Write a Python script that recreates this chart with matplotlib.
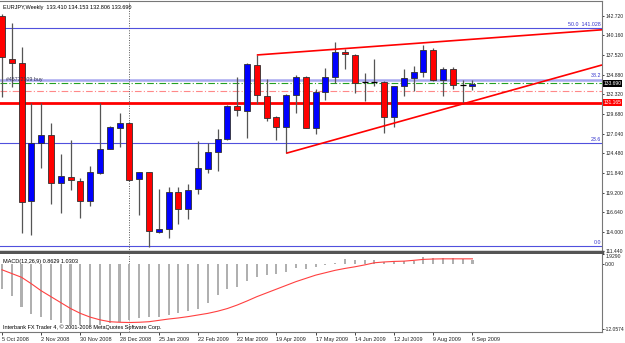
import numpy as np
import matplotlib.pyplot as plt
import matplotlib.transforms as mtransforms

# EURJPY weekly bars, week of 5 Oct 2008 .. week of 6 Sep 2009
opens = [142.66, 136.92, 136.47, 118.09, 125.86, 126.92, 120.52, 121.32, 120.74, 118.13,
         121.89, 125.07, 127.81, 128.51, 121.01, 121.94, 114.06, 114.38, 119.37, 117.03,
         119.68, 122.37, 124.59, 126.35, 130.77, 130.10, 136.12, 132.05, 129.23, 127.90,
         132.15, 134.57, 127.85, 132.62, 134.61, 137.85, 137.49, 133.95, 133.91, 133.87,
         129.23, 133.38, 134.40, 135.28, 138.15, 134.17, 135.63, 133.47, 133.410]
highs = [142.90, 141.69, 138.59, 131.09, 131.09, 128.43, 124.36, 126.22, 121.14, 122.77,
         131.16, 128.10, 129.76, 128.60, 122.02, 122.00, 119.68, 120.03, 120.03, 120.39,
         126.13, 125.78, 127.68, 130.90, 134.53, 136.40, 137.49, 134.35, 129.40, 132.28,
         134.80, 134.70, 132.94, 135.73, 139.25, 138.24, 137.60, 135.06, 136.92, 134.00,
         133.40, 135.59, 136.03, 138.81, 138.38, 135.94, 135.94, 134.17, 134.153]
lows = [131.96, 133.29, 113.85, 113.63, 122.47, 117.69, 116.50, 119.59, 115.84, 117.51,
        121.71, 124.98, 125.33, 120.80, 116.28, 112.07, 113.85, 113.19, 115.04, 115.70,
        119.06, 121.80, 122.15, 126.20, 129.40, 126.44, 131.00, 128.78, 126.22, 124.46,
        129.84, 127.80, 126.97, 131.52, 133.82, 135.63, 132.41, 131.43, 133.38, 127.10,
        127.98, 132.05, 132.75, 134.61, 134.00, 132.09, 132.94, 131.00, 132.806]
closes = [137.18, 136.47, 118.00, 125.86, 126.92, 120.48, 121.45, 120.92, 118.13, 121.98,
          124.98, 127.90, 128.51, 120.92, 121.94, 114.16, 114.40, 119.37, 117.07, 119.59,
          122.47, 124.59, 126.35, 130.77, 130.20, 136.25, 132.15, 129.17, 127.90, 132.15,
          134.57, 127.85, 132.62, 134.61, 137.85, 137.58, 133.82, 133.95, 133.91, 129.23,
          133.38, 134.40, 135.28, 138.15, 134.17, 135.63, 133.51, 133.47, 133.690]

macd_main = [-4.64, -5.88, -8.0, -9.2, -9.8, -10.4, -10.8, -11.2, -11.35, -11.35,
             -11.2, -10.9, -10.7, -10.3, -10.05, -9.8, -9.7, -9.4, -9.1, -8.7,
             -8.2, -7.2, -5.7, -4.6, -4.2, -3.0, -2.3, -2.0, -1.85, -1.5,
             -0.75, -0.9, -0.45, -0.15, 0.3, 0.93, 0.9, 0.9, 0.9, 0.5,
             0.5, 0.7, 0.7, 1.3, 1.2, 1.2, 1.1, 1.0, 0.8629]
macd_signal = [-1.0, -1.7, -2.4, -3.6, -4.9, -6.0, -7.1, -8.2, -9.1, -9.8,
               -10.3, -10.65, -10.75, -10.8, -10.75, -10.65, -10.4, -10.15, -9.95, -9.7,
               -9.4, -9.1, -8.7, -8.2, -7.55, -6.8, -6.0, -5.3, -4.6, -3.9,
               -3.2, -2.6, -2.0, -1.55, -1.1, -0.75, -0.45, -0.1, 0.3, 0.45,
               0.55, 0.6, 0.75, 0.93, 1.0, 1.03, 1.03, 1.03, 1.0303]

date_bars = [0, 4, 8, 12, 16, 20, 24, 28, 32, 36, 40, 44, 48]
date_labels = ['5 Oct 2008', '2 Nov 2008', '30 Nov 2008', '28 Dec 2008', '25 Jan 2009',
               '22 Feb 2009', '22 Mar 2009', '19 Apr 2009', '17 May 2009', '14 Jun 2009',
               '12 Jul 2009', '9 Aug 2009', '6 Sep 2009']

price_ticks = [142.72, 140.16, 137.52, 134.88, 132.32, 129.68, 127.04, 124.48,
               121.84, 119.20, 116.64, 114.00, 111.44]
price_tick_labels = ['142.720', '140.160', '137.520', '134.880', '132.320', '129.680',
                     '127.040', '124.480', '121.840', '119.200', '116.640', '114.000',
                     '111.440']
macd_ticks = [1.929, 0.0, -12.0574]
macd_tick_labels = ['1.9290', '0.00', '-12.0574']

fib_levels = [141.028, 134.23, 125.81, 112.21]
fib_names = ['50.0  141.028', '38.2', '23.6', '0.0']

resistance = 131.165
order_open = 133.75
order_stop = 132.76
order_label = '#45772109 buy'

upper_trend_x = [26, 49.3]
upper_trend_y = [137.49, 139.70]
lower_trend_x = [29, 47]
lower_trend_y = [124.46, 131.00]

year_separator_bar = 13


def main():
    plt.rcParams['font.family'] = ['Liberation Sans', 'DejaVu Sans']
    plt.rcParams['font.size'] = 4

    W, H = 625, 343
    fig = plt.figure(figsize=(W / 100, H / 100), dpi=100)
    fig.patch.set_facecolor('white')
    ax = fig.add_axes([0, (H - 252) / H, 602 / W, 251 / H])
    axm = fig.add_axes([0, (H - 332) / H, 602 / W, 78 / H])

    x0, x1 = -0.2, 61.22
    n = len(closes)
    xs = np.arange(n)
    o = np.array(opens)
    c = np.array(closes)

    # candles
    ax.vlines(xs, lows, highs, color='#555555', lw=0.9, zorder=2)
    up = c > o
    dn = c < o
    eq = c == o
    ax.bar(xs[up], (c - o)[up], bottom=o[up], width=0.62, color='#0000ff',
           edgecolor='#303030', lw=0.6, zorder=3)
    ax.bar(xs[dn], (o - c)[dn], bottom=c[dn], width=0.62, color='#ff0000',
           edgecolor='#303030', lw=0.6, zorder=3)
    ax.hlines(c[eq], xs[eq] - 0.31, xs[eq] + 0.31, color='black', lw=0.9, zorder=3)

    # fibonacci levels
    for lvl, name in zip(fib_levels, fib_names):
        if name == '38.2':
            ax.axhline(lvl, color='#a8a8f0', lw=1.8, zorder=1)
        else:
            ax.axhline(lvl, color='#5050dd', lw=0.8, zorder=1)
        ax.text(x1 - 0.1, lvl + 0.15, name, color='#3030cc', ha='right', va='bottom',
                fontsize=3.8)

    ax.axhline(order_open, color='#22a022', lw=0.8, ls=(0, (6, 2, 1, 2)), zorder=1)
    ax.axhline(order_stop, color='#ff8888', lw=0.8, ls=(0, (6, 2, 1, 2)), zorder=1)
    ax.axhline(resistance, color='#ff0000', lw=2, zorder=1)
    ax.text(0.45, fib_levels[1] + 0.05, order_label, color='#303050', ha='left',
            va='center', fontsize=3.8)

    # trend lines, extended to the right edge
    for tx, ty in ((upper_trend_x, upper_trend_y), (lower_trend_x, lower_trend_y)):
        k = (ty[1] - ty[0]) / (tx[1] - tx[0])
        ax.plot([tx[0], x1], [ty[0], ty[0] + k * (x1 - tx[0])], color='#ff0000',
                lw=1.2, zorder=4, solid_capstyle='butt')

    ax.set_xlim(x0, x1)
    ax.set_ylim(111.371, 144.647)
    ax.set_xticks([])
    ax.yaxis.tick_right()
    ax.set_yticks(price_ticks)
    ax.set_yticklabels(price_tick_labels)
    ax.tick_params(axis='y', length=1.5, width=0.6, pad=0.8, labelsize=3.6, colors='#222222')

    tr = mtransforms.blended_transform_factory(ax.transAxes, ax.transData)
    ax.text(1.002, closes[-1], '%.3f' % closes[-1], transform=tr, color='white',
            ha='left', va='center', fontsize=3.6, clip_on=False, zorder=6,
            bbox=dict(facecolor='black', edgecolor='none', pad=0.5))
    ax.text(1.002, resistance, '%.3f' % resistance, transform=tr, color='white',
            ha='left', va='center', fontsize=3.6, clip_on=False, zorder=6,
            bbox=dict(facecolor='#ff0000', edgecolor='none', pad=0.5))

    ax.text(0.005, 0.985,
            'EURJPY,Weekly  %.3f %.3f %.3f %.3f' % (opens[-1], highs[-1], lows[-1], closes[-1]),
            transform=ax.transAxes, ha='left', va='top', fontsize=4, color='black')

    ax.spines['left'].set_visible(False)
    ax.spines['top'].set_color('#777777')
    ax.spines['right'].set_color('#777777')
    ax.spines['bottom'].set_color('#555555')
    ax.spines['bottom'].set_linewidth(2.5)

    # MACD
    axm.bar(xs, macd_main, width=0.22, color='#b0b0b0', zorder=2)
    axm.plot(xs, macd_signal, color='#ff4040', lw=0.8, zorder=3)
    axm.set_xlim(x0, x1)
    axm.set_ylim(-12.56, 1.911)
    axm.yaxis.tick_right()
    axm.set_yticks(macd_ticks)
    axm.set_yticklabels(macd_tick_labels)
    axm.tick_params(axis='y', length=1.5, width=0.6, pad=0.8, labelsize=3.6, colors='#222222')
    for lbl in axm.get_yticklabels()[:1]:
        lbl.set_va('top')
    axm.set_xticks(date_bars)
    axm.set_xticklabels(date_labels)
    axm.tick_params(axis='x', length=2, width=0.6, pad=1.5, labelsize=4, colors='#222222')
    for lbl in axm.get_xticklabels():
        lbl.set_ha('left')
    axm.spines['left'].set_visible(False)
    axm.spines['top'].set_visible(False)
    axm.spines['right'].set_color('#777777')
    axm.spines['bottom'].set_color('#777777')

    axm.text(0.005, 0.93, 'MACD(12,26,9) %.4f %.4f' % (macd_main[-1], macd_signal[-1]),
             transform=axm.transAxes, ha='left', va='top', fontsize=4, color='black')
    axm.text(0.005, 0.02, 'Interbank FX Trader 4, \u00a9 2001-2008 MetaQuotes Software Corp.',
             transform=axm.transAxes, ha='left', va='bottom', fontsize=4, color='black')

    # year separator
    for a in (ax, axm):
        a.axvline(year_separator_bar, color='#555555', lw=0.7, ls=(0, (1, 1.5)), zorder=1)

    fig.savefig('out.png', dpi=100)


if __name__ == "__main__":
    main()
